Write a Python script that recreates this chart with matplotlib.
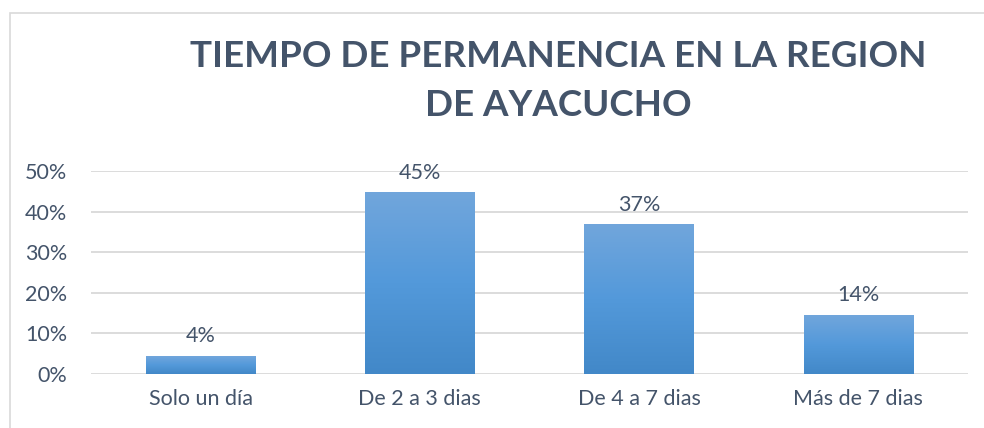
import matplotlib
matplotlib.use("Agg")
import matplotlib.pyplot as plt
import numpy as np
from matplotlib.colors import LinearSegmentedColormap
from matplotlib.patches import Rectangle

categories = ["Solo un día", "De 2 a 3 dias", "De 4 a 7 dias", "Más de 7 dias"]
values = [0.044, 0.446, 0.367, 0.145]
labels = ["4%", "45%", "37%", "14%"]
yticks = [0, 0.1, 0.2, 0.3, 0.4, 0.5]
ytick_labels = ["0%", "10%", "20%", "30%", "40%", "50%"]

text_color = "#44546A"
plt.rcParams['font.family'] = ['Lato', 'DejaVu Sans']

W, H = 984, 428
fig = plt.figure(figsize=(W / 100, H / 100), dpi=100)
fig.patch.set_facecolor("white")

# outer frame
fig.add_artist(Rectangle((10 / W, -0.1), 1.2, (H - 13.5) / H + 0.1,
                         transform=fig.transFigure, fill=False,
                         edgecolor="#D9D9D9", linewidth=1.2))

ax = fig.add_axes([91 / W, 54 / H, (968 - 91) / W, (374 - 171) / H])
x = np.arange(len(categories))
bars = ax.bar(x, values, width=0.5, color="none", zorder=3)

cmap = LinearSegmentedColormap.from_list("g", ["#4288C8", "#5399DA", "#71A6DC"])
grad = np.linspace(0, 1, 256).reshape(-1, 1)
for rect in bars:
    bx, by = rect.get_xy()
    ax.imshow(grad, extent=[bx, bx + rect.get_width(), by, by + rect.get_height()],
              origin="lower", aspect="auto", cmap=cmap, zorder=3)

for xi, v, lab in zip(x, values, labels):
    ax.text(xi, v + 0.035, lab, ha="center", va="baseline", fontsize=15.5,
            color=text_color)

ax.set_xlim(-0.5, len(categories) - 0.5)
ax.set_ylim(0, 0.5)
ax.set_yticks(yticks)
ax.set_yticklabels(ytick_labels)
ax.set_xticks(x)
ax.set_xticklabels(categories)
ax.tick_params(axis="both", length=0, labelsize=15.5, colors=text_color)
ax.tick_params(axis="y", pad=17)
ax.tick_params(axis="x", pad=11)
ax.grid(axis="y", color="#D9D9D9", linewidth=1.3, zorder=0)
ax.set_axisbelow(True)
for s in ax.spines.values():
    s.set_visible(False)

fig.text(558 / W, 1 - 57 / H, "TIEMPO DE PERMANENCIA EN LA REGION", ha="center", va="center",
         fontsize=26.5, fontweight="bold", color=text_color)
fig.text(558 / W, 1 - 106 / H, "DE AYACUCHO", ha="center", va="center",
         fontsize=26.5, fontweight="bold", color=text_color)

fig.savefig("out.png", dpi=100)
